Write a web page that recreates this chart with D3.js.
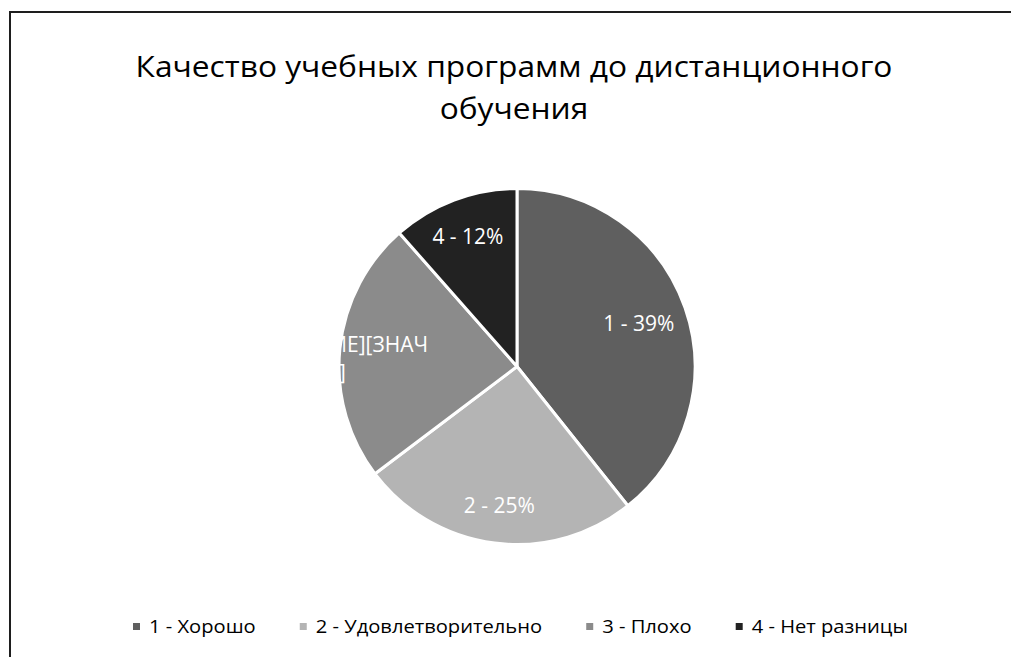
<!DOCTYPE html>
<html>
<head>
<meta charset="utf-8">
<script src="https://cdn.jsdelivr.net/npm/d3@7.9.0/dist/d3.min.js"></script>
<style>
  html, body { margin: 0; padding: 0; background: #fff; }
  svg { display: block; font-family: 'Open Sans', 'Noto Sans', sans-serif; }
</style>
</head>
<body>
<svg id="chart" width="1011" height="657"></svg>
<script>
const titleLines = ['Качество учебных программ до дистанционного', 'обучения'];
const categories = ['1 - Хорошо', '2 - Удовлетворительно', '3 - Плохо', '4 - Нет разницы'];
const shortNames = ['1', '2', '3', '4'];
const values = [39.3, 25.4, 23.8, 11.5];
const colors = ['#5f5f5f', '#b4b4b4', '#8b8b8b', '#222222'];
// the third label is a broken placeholder in the original
const brokenLabel = ['[ЗНАЧЕНИЕ][ЗНАЧ', 'ЕНИЕ]'];

const svg = d3.select('#chart');
const cx = 517, cy = 366.5, radius = 178;

// frame (only top and left edges are in view)
svg.append('path')
  .attr('d', 'M10,1011 L10,12 L1011,12')
  .attr('fill', 'none')
  .attr('stroke', '#1e1e1e')
  .attr('stroke-width', 2);

// title, stretched to the width of the original first line
const t1 = svg.append('text')
  .attr('text-anchor', 'middle')
  .attr('font-size', 30)
  .attr('fill', '#000')
  .text(titleLines[0]);
const kt = 757 / t1.node().getComputedTextLength();
t1.attr('transform', `translate(514,77) scale(${kt},1)`);
svg.append('text')
  .attr('text-anchor', 'middle')
  .attr('font-size', 30)
  .attr('fill', '#000')
  .attr('transform', `translate(514,119) scale(${kt},1)`)
  .text(titleLines[1]);

// pie
const total = d3.sum(values);
const pie = d3.pie().sort(null).value(d => d);
const arcs = pie(values);
const arc = d3.arc().innerRadius(0).outerRadius(radius);

const g = svg.append('g').attr('transform', `translate(${cx},${cy})`);
g.selectAll('path')
  .data(arcs)
  .join('path')
  .attr('d', arc)
  .attr('fill', (d, i) => colors[i])
  .attr('stroke', '#fff')
  .attr('stroke-width', 3)
  .attr('stroke-linejoin', 'round');

// data labels
const labelRadius = [0.725, 0.79, 0.6, 0.78];
arcs.forEach((d, i) => {
  if (i === 2) return;
  const a = (d.startAngle + d.endAngle) / 2;
  const r = radius * labelRadius[i];
  g.append('text')
    .attr('x', Math.sin(a) * r)
    .attr('y', -Math.cos(a) * r)
    .attr('dy', '0.35em')
    .attr('text-anchor', 'middle')
    .attr('font-size', 21)
    .attr('fill', '#fff')
    .text(`${shortNames[i]} - ${Math.round(values[i] / total * 100)}%`);
});

// broken label of slice 3: white text, only the part over the pie shows
g.append('text')
  .attr('text-anchor', 'end')
  .attr('font-size', 21)
  .attr('fill', '#fff')
  .attr('x', -89).attr('y', -15)
  .text(brokenLabel[0]);
g.append('text')
  .attr('text-anchor', 'end')
  .attr('font-size', 21)
  .attr('fill', '#fff')
  .attr('x', -171).attr('y', 13)
  .text(brokenLabel[1]);

// legend
const legend = svg.append('g');
const items = categories.map((c, i) => {
  const it = legend.append('g');
  it.append('rect')
    .attr('width', 7).attr('height', 7)
    .attr('y', -4)
    .attr('fill', colors[i]);
  const tx = it.append('text')
    .attr('dy', '0.35em')
    .attr('font-size', 18.5)
    .attr('fill', '#000')
    .text(c);
  return { it, tx };
});
// squeeze the legend texts so the row spans the same width as the original
const gap = 44, pad = 16, startX = 133, endX = 908;
const rawW = items.map(d => d.tx.node().getComputedTextLength());
const kl = ((endX - startX) - pad * items.length - gap * (items.length - 1)) / d3.sum(rawW);
let x = startX;
items.forEach(({ it, tx }, i) => {
  it.attr('transform', `translate(${x},627)`);
  tx.attr('transform', `translate(${pad},0) scale(${kl},1)`);
  x += pad + rawW[i] * kl + gap;
});
</script>
</body>
</html>
